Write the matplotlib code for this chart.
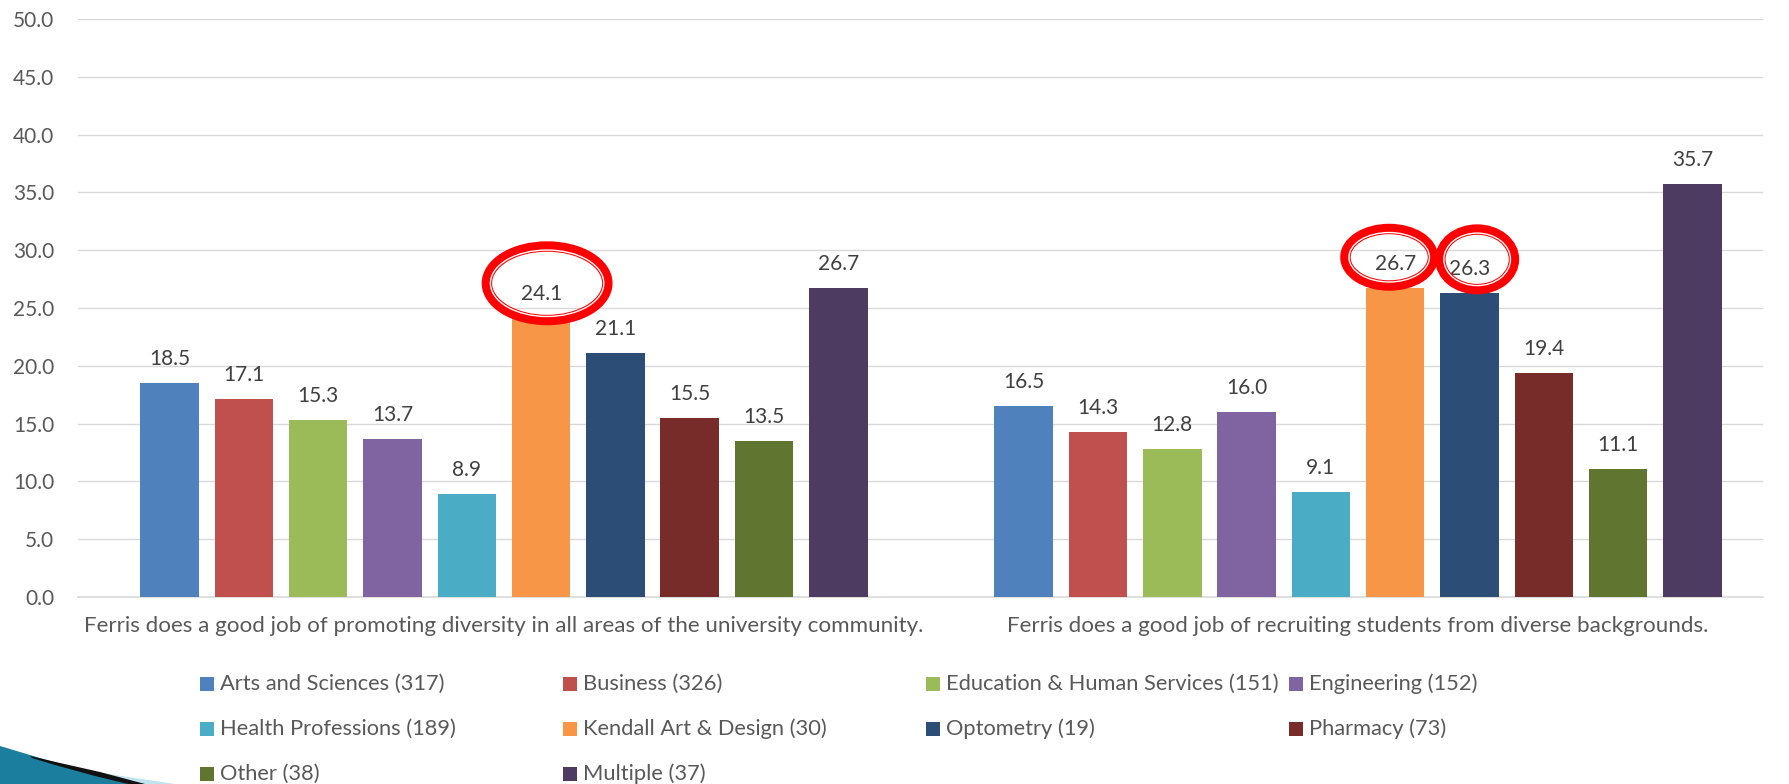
import matplotlib
matplotlib.use("Agg")
import matplotlib.pyplot as plt
import numpy as np
from matplotlib.patches import Ellipse, Polygon, Rectangle

# ---------------- data ----------------
categories = [
    "Ferris does a good job of promoting diversity in all areas of the university community.",
    "Ferris does a good job of recruiting students from diverse backgrounds.",
]
series = [
    "Arts and Sciences (317)", "Business (326)", "Education & Human Services (151)",
    "Engineering (152)", "Health Professions (189)", "Kendall Art & Design (30)",
    "Optometry (19)", "Pharmacy (73)", "Other (38)", "Multiple (37)",
]
values_promoting = [18.5, 17.1, 15.3, 13.7, 8.9, 24.1, 21.1, 15.5, 13.5, 26.7]
values_recruiting = [16.5, 14.3, 12.8, 16.0, 9.1, 26.7, 26.3, 19.4, 11.1, 35.7]
colors = ["#4F81BD", "#C0504D", "#9BBB59", "#8064A2", "#4BACC6",
          "#F79646", "#2C4D75", "#772C2A", "#5F7530", "#4D3B62"]
y_ticks = [0, 5, 10, 15, 20, 25, 30, 35, 40, 45, 50]
# circled labels: (category index, series index)
highlights = [(0, 5), (1, 5), (1, 6)]

# ---------------- style ----------------
W, H = 1789, 784
FONT = "Lato"
plt.rcParams["font.family"] = [FONT, "DejaVu Sans"]

fig = plt.figure(figsize=(W / 100, H / 100), dpi=100)
renderer = fig.canvas.get_renderer()


def size_for(s, target_px, base=12):
    t = fig.text(0, 0, s, fontsize=base)
    w = t.get_window_extent(renderer).width
    t.remove()
    return base * target_px / w


fs_tick = size_for("50.0", 41)
fs_cat = size_for(categories[0], 836)
fs_leg = size_for("Engineering (152)", 168)

ax_left, ax_right, ax_top, ax_bottom = 78, 1763, 19, 597
ax = fig.add_axes([ax_left / W, (H - ax_bottom) / H,
                   (ax_right - ax_left) / W, (ax_bottom - ax_top) / H])

step = 0.0870
bw = 0.0685
cat_x = np.arange(len(categories))
all_vals = [values_promoting, values_recruiting]

for i, (name, col) in enumerate(zip(series, colors)):
    xs = cat_x + (i - (len(series) - 1) / 2) * step
    vals = [all_vals[c][i] for c in range(len(categories))]
    ax.bar(xs, vals, width=bw, color=col, zorder=3, label=name)
    for x, v in zip(xs, vals):
        ax.annotate(f"{v:.1f}", (x, v), xytext=(0, 13), textcoords="offset points",
                    ha="center", va="baseline", fontsize=fs_tick, color="#404040",
                    zorder=4)

ax.set_xlim(-0.4988, 1.4742)
ax.set_ylim(0, 50)
ax.set_yticks(y_ticks)
ax.set_yticklabels([f"{t:.1f}" for t in y_ticks])
ax.set_xticks(cat_x)
ax.set_xticklabels(categories)
ax.tick_params(axis="y", length=0, pad=17, labelsize=fs_tick, labelcolor="#595959")
ax.tick_params(axis="x", length=0, pad=14, labelsize=fs_cat, labelcolor="#595959")
for lab in ax.get_xticklabels():
    lab.set_x(lab.get_position()[0])
ax.grid(axis="y", color="#D9D9D9", linewidth=1.0, zorder=0)
for s in ["top", "right", "left"]:
    ax.spines[s].set_visible(False)
ax.spines["bottom"].set_color("#D9D9D9")
ax.spines["bottom"].set_linewidth(1.2)
ax.set_axisbelow(True)

# ---------------- red circles ----------------
ell_geom = {  # (dx, dy above value, width, height) in data units
    (0, 5): (0.007, 3.04, 0.141, 6.36),
    (1, 5): (-0.007, 2.69, 0.1025, 4.89),
    (1, 6): (0.009, 2.91, 0.0862, 5.15),
}
for (c, i) in highlights:
    dx, dy, w, h = ell_geom[(c, i)]
    x = cat_x[c] + (i - (len(series) - 1) / 2) * step + dx
    y = all_vals[c][i] + dy
    ax.add_patch(Ellipse((x, y), w, h, fill=False, ec="#FF0000", lw=7.5,
                         zorder=6, clip_on=False))
    ax.add_patch(Ellipse((x, y), w - 0.0082, h - 0.61, fill=False, ec="white",
                         lw=1.0, zorder=7, clip_on=False))

# ---------------- legend (Excel-style grid) ----------------
col_x = [200, 563, 926, 1289]
row_y = [684, 729, 774]
for i, (name, col) in enumerate(zip(series, colors)):
    r, c = divmod(i, 4)
    x, y = col_x[c], row_y[r]
    fig.add_artist(Rectangle((x / W, 1 - (y + 7) / H), 14 / W, 14 / H,
                             transform=fig.transFigure, color=col, lw=0))
    fig.text((x + 20) / W, 1 - y / H, name, ha="left", va="center",
             fontsize=fs_leg, color="#595959")

# ---------------- slide decoration (bottom-left swoosh) ----------------
def fig_poly(pts, color, z=1):
    p = Polygon([(px / W, 1 - py / H) for px, py in pts], closed=True,
                transform=fig.transFigure, color=color, lw=0, zorder=z)
    fig.add_artist(p)

fig_poly([(0, 746), (50, 761), (100, 774), (135, 784), (0, 784)], "#1B7E9E")
fig_poly([(95, 772), (175, 784), (130, 784)], "#BFE3EF")
fig_poly([(30, 756), (60, 763), (100, 772), (145, 784), (128, 784), (95, 776),
          (55, 765), (32, 758)], "#111111", z=2)

fig.savefig("out.png", dpi=100)
